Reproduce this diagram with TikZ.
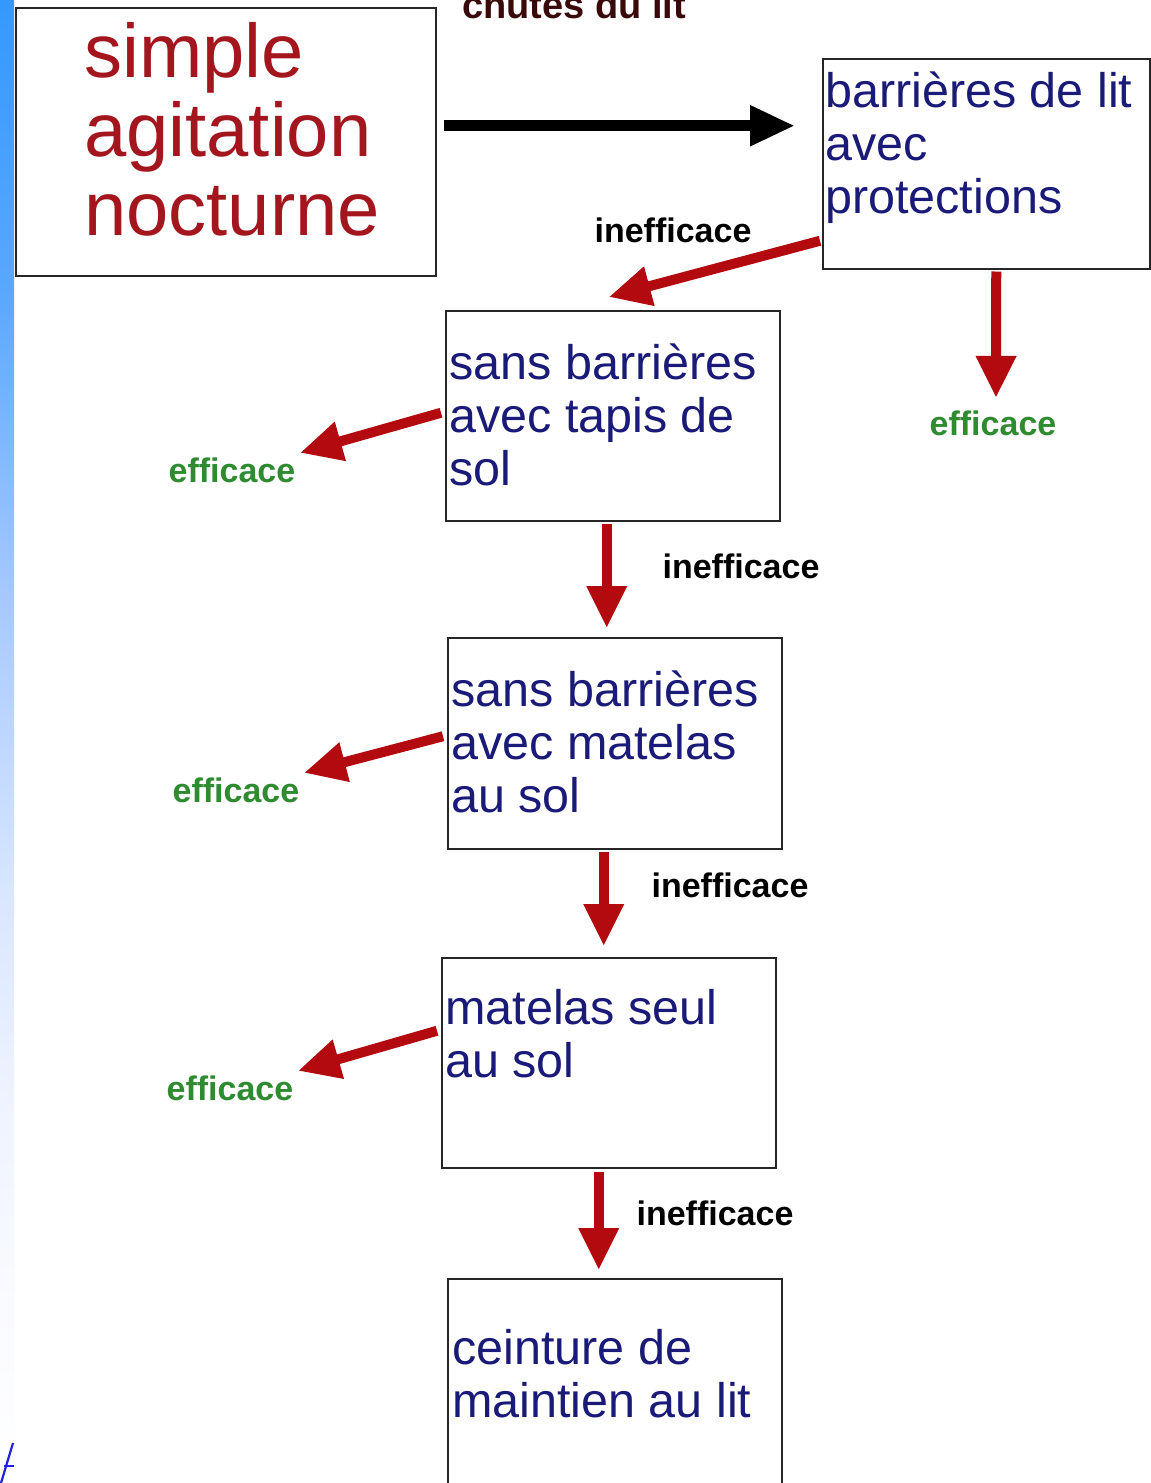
\documentclass[tikz,border=0pt]{standalone}
\usepackage{fontspec}
\setmainfont{Liberation Sans}
\usetikzlibrary{positioning, arrows.meta, calc}

\definecolor{redtext}{HTML}{A3161E}
\definecolor{bluetext}{HTML}{1A1A78}
\definecolor{greentext}{HTML}{2E8B30}
\definecolor{arrowred}{HTML}{B30A10}
\definecolor{titletext}{HTML}{3A0A0A}
\definecolor{linkblue}{HTML}{2222DD}
\definecolor{stripA}{HTML}{3399FF}
\definecolor{stripB}{HTML}{5AA8FF}
\definecolor{stripC}{HTML}{A6C8FF}
\definecolor{stripD}{HTML}{D8E6FF}
\definecolor{stripE}{HTML}{EEF3FF}
\definecolor{stripF}{HTML}{FAFBFF}

% page strip on the left, bright at the top
\pgfdeclareverticalshading{stripfade}{100bp}{color(0bp)=(white); color(25bp)=(white); color(31bp)=(stripF); color(38bp)=(stripE); color(45bp)=(stripD); color(55bp)=(stripC); color(65bp)=(stripB); color(75bp)=(stripA); color(100bp)=(stripA)}

\begin{document}
\begin{tikzpicture}[
    x=1pt, y=-1pt,
    box/.style={rectangle, draw=black!85, line width=1.5pt, inner sep=0pt, anchor=north west},
    boxtext/.style={anchor=base west, align=left, inner sep=0pt, text=bluetext, font=\fontsize{48.5}{53}\selectfont},
    redarrow/.style={-{Triangle[length=42pt, width=38pt]}, line width=10pt, draw=arrowred},
    blackarrow/.style={-{Triangle[length=45pt, width=38pt]}, line width=11pt, draw=black},
    badlabel/.style={anchor=base, inner sep=0pt, font=\fontsize{34}{40}\selectfont\bfseries, text=black},
    goodlabel/.style={badlabel, text=greentext}
]

% Page and margins
\fill[white] (0,0) rectangle (1151,1483);
\useasboundingbox (0,0) rectangle (1151,1483);
\shade[shading=stripfade] (0,0) rectangle (14,1483);

% Boxes
\node[box, minimum width=420pt, minimum height=268pt] (b1) at (15,7) {};
\node[box, minimum width=327pt, minimum height=210pt] (b2) at (822,58) {};
\node[box, minimum width=334pt, minimum height=210pt] (b3) at (445,310) {};
\node[box, minimum width=334pt, minimum height=211pt] (b4) at (447,637) {};
\node[box, minimum width=334pt, minimum height=210pt] (b5) at (441,957) {};
\node[box, minimum width=334pt, minimum height=230pt] (b6) at (447,1278) {};

% Box texts (placed by the baseline of their last line)
\node[boxtext, text=redtext, font=\fontsize{76}{79}\selectfont] (t1) at (84,235) {simple\\agitation\\nocturne};
\node[boxtext] (t2) at (825,213) {barrières de lit\\avec\\protections};
\node[boxtext] (t3) at (449,485) {sans barrières\\avec tapis de\\sol};
\node[boxtext] (t4) at (451,812) {sans barrières\\avec matelas\\au sol};
\node[boxtext] (t5) at (445,1077) {matelas seul\\au sol};
\node[boxtext] (t6) at (452,1417) {ceinture de\\maintien au lit};

\node[anchor=base west, inner sep=0pt, text=titletext, font=\fontsize{38}{40}\selectfont\bfseries] (title) at (462,18) {chutes du lit};

% Labels
\node[badlabel] (no2) at (673,242) {inefficace};
\node[badlabel] (no3) at (741,578) {inefficace};
\node[badlabel] (no4) at (730,897) {inefficace};
\node[badlabel] (no5) at (715,1225) {inefficace};
\node[goodlabel] (ok2) at (993,435) {efficace};
\node[goodlabel] (ok3) at (232,482) {efficace};
\node[goodlabel] (ok4) at (236,802) {efficace};
\node[goodlabel] (ok5) at (230,1100) {efficace};

% Arrows
\draw[blackarrow] ([shift={(7pt,16pt)}]b1.east) -- ([shift={(-27pt,38pt)}]b2.west);
\draw[redarrow] ([shift={(-2pt,-77pt)}]b2.west) -- ([shift={(-4pt,13pt)}]b3.north);
\draw[redarrow] ([shift={(10pt,-2pt)}]b2.south) -- ([shift={(3pt,25pt)}]ok2.center);
\draw[redarrow] ([shift={(-6pt,-2pt)}]b3.south) -- ([shift={(-8pt,9pt)}]b4.north);
\draw[redarrow] ([shift={(-11pt,-2pt)}]b4.south) -- ([shift={(-5pt,11pt)}]b5.north);
\draw[redarrow] ([shift={(-10pt,-3pt)}]b5.south) -- ([shift={(-16pt,8pt)}]b6.north);
\foreach \src/\dst/\dy in {b3/ok3/3, b4/ok4/7, b5/ok5/32}{
    \draw[redarrow] ([shift={(-4pt,\dy pt)}]\src.west) -- ([shift={(68pt,17pt)}]\dst.center);
}

% Cut-off link mark, bottom left
\draw[linkblue, line width=2.2pt] (13,1443) -- (1,1483);
\draw[linkblue, line width=2.2pt] (4,1466) -- (14,1466);

\end{tikzpicture}
\end{document}
